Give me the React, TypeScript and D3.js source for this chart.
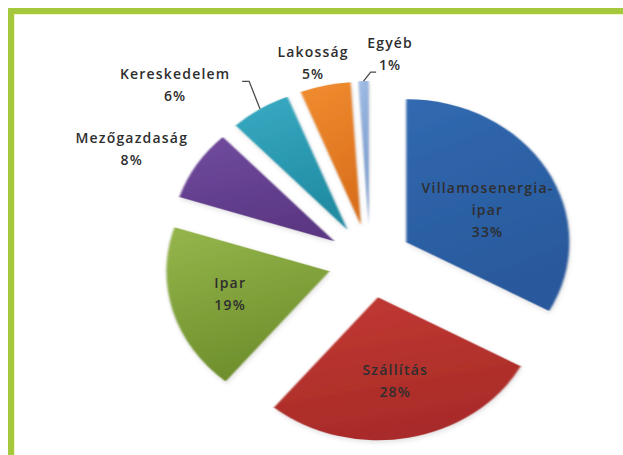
import React from "react";
import * as d3 from "d3";

// ---- data ----
const categories = [
  "Villamosenergia-ipar",
  "Szállítás",
  "Ipar",
  "Mezőgazdaság",
  "Kereskedelem",
  "Lakosság",
  "Egyéb",
];
const values = [33, 28, 19, 8, 6, 5, 1];
const labelLines = [
  ["Villamosenergia-", "ipar"],
  ["Szállítás"],
  ["Ipar"],
  ["Mezőgazdaság"],
  ["Kereskedelem"],
  ["Lakosság"],
  ["Egyéb"],
];
const colorsTop = ["#3169b0", "#c23a33", "#96b64c", "#724c9f", "#38abc3", "#f18d31", "#a3bfe6"];
const colorsBottom = ["#29599c", "#a92b29", "#6e8f2c", "#5b3784", "#218ca3", "#da701c", "#7597cb"];

// ---- layout ----
const W = 623;
const H = 455;
const CX = 370;
const CY = 261;
const R = 143;
const SX = 1.14;
const EXPLODE = 37;
const LINE_H = 22;
// label placement: polar (deg, radius) measured from each slice's apex
const labelLayout = [
  { a: 66, r: 78 },
  { a: 169.7, r: 85 },
  { a: 255.4, r: 90 },
  { a: 297.3, r: 200 },
  { a: 313.7, r: 209 },
  { a: 345.5, r: 167 },
  { a: 6.3, r: 171.5 },
];
// leader lines: [end, elbow] offsets relative to label block centre
const leaderLayout: Record<number, [number, number][]> = {
  4: [[67, -4], [74, -4]],
  6: [[-14, 18.5], [-19.5, 18.5]],
};

export default function App() {
  const pie = d3.pie<number>().sort(null).value((d) => d);
  const arcs = pie(values);
  const arcGen = d3.arc<d3.PieArcDatum<number>>().innerRadius(0).outerRadius(R);
  const toRad = (deg: number) => (deg * Math.PI) / 180;

  return (
    <div style={{ position: "fixed", left: 0, top: 0, width: W, height: H, background: "#fff" }}>
      <svg width={W} height={H} style={{ display: "block" }}>
        <defs>
          {arcs.map((_, i) => (
            <linearGradient key={i} id={`g${i}`} x1="0" y1="0" x2="0.3" y2="1">
              <stop offset="0%" stopColor={colorsTop[i]} />
              <stop offset="100%" stopColor={colorsBottom[i]} />
            </linearGradient>
          ))}
          <filter id="soft" x="-10%" y="-10%" width="120%" height="120%">
            <feGaussianBlur stdDeviation="0.7" />
          </filter>
          <filter id="shadow" x="-20%" y="-20%" width="140%" height="140%">
            <feGaussianBlur stdDeviation="2.5" />
          </filter>
        </defs>
        <rect x={0} y={0} width={W} height={H} fill="#fff" />
        {/* green frame */}
        <rect x={8} y={8} width={W - 8} height={6} fill="#a6c83c" />
        <rect x={8} y={8} width={6} height={H - 8} fill="#a6c83c" />
        <rect x={14} y={14} width={W - 14} height={1} fill="#f2f6c8" />
        <rect x={14} y={14} width={1} height={H - 14} fill="#f2f6c8" />

        {arcs.map((d, i) => {
          const mid = (d.startAngle + d.endAngle) / 2;
          const ax = CX + EXPLODE * Math.sin(mid) * SX;
          const ay = CY - EXPLODE * Math.cos(mid);
          return (
            <g key={categories[i]}>
              <g transform={`translate(${ax + 1},${ay + 2}) scale(${SX},1)`} opacity={0.18}>
                <path d={arcGen(d) || ""} fill="#555" filter="url(#shadow)" />
              </g>
              <g transform={`translate(${ax},${ay}) scale(${SX},1)`}>
                <path d={arcGen(d) || ""} fill={`url(#g${i})`} filter="url(#soft)" />
              </g>
            </g>
          );
        })}

        {arcs.map((d, i) => {
          const mid = (d.startAngle + d.endAngle) / 2;
          const ax = CX + EXPLODE * Math.sin(mid) * SX;
          const ay = CY - EXPLODE * Math.cos(mid);
          const L = labelLayout[i];
          const lx = ax + SX * L.r * Math.sin(toRad(L.a));
          const ly = ay - L.r * Math.cos(toRad(L.a));
          const lines = [...labelLines[i], `${values[i]}%`];
          const n = lines.length;
          const first = ly - ((n - 1) * LINE_H) / 2 + 5;
          const leader = leaderLayout[i];
          let leaderPath: string | null = null;
          if (leader) {
            const sx0 = ax + SX * R * Math.sin(mid);
            const sy0 = ay - R * Math.cos(mid);
            const p = d3.path();
            p.moveTo(sx0, sy0);
            p.lineTo(lx + leader[1][0], ly + leader[1][1]);
            p.lineTo(lx + leader[0][0], ly + leader[0][1]);
            leaderPath = p.toString();
          }
          return (
            <g key={`l${i}`}>
              {leaderPath && (
                <path d={leaderPath} fill="none" stroke="#4a4a4a" strokeWidth={1.3} />
              )}
              <text
                textAnchor="middle"
                fontFamily="'Open Sans', sans-serif"
                fontWeight={600}
                fontSize={14}
                letterSpacing={1.2}
                fill="#2e2e2e"
              >
                {lines.map((t, k) => (
                  <tspan key={k} x={lx} y={first + k * LINE_H}>
                    {t}
                  </tspan>
                ))}
              </text>
            </g>
          );
        })}
      </svg>
    </div>
  );
}
